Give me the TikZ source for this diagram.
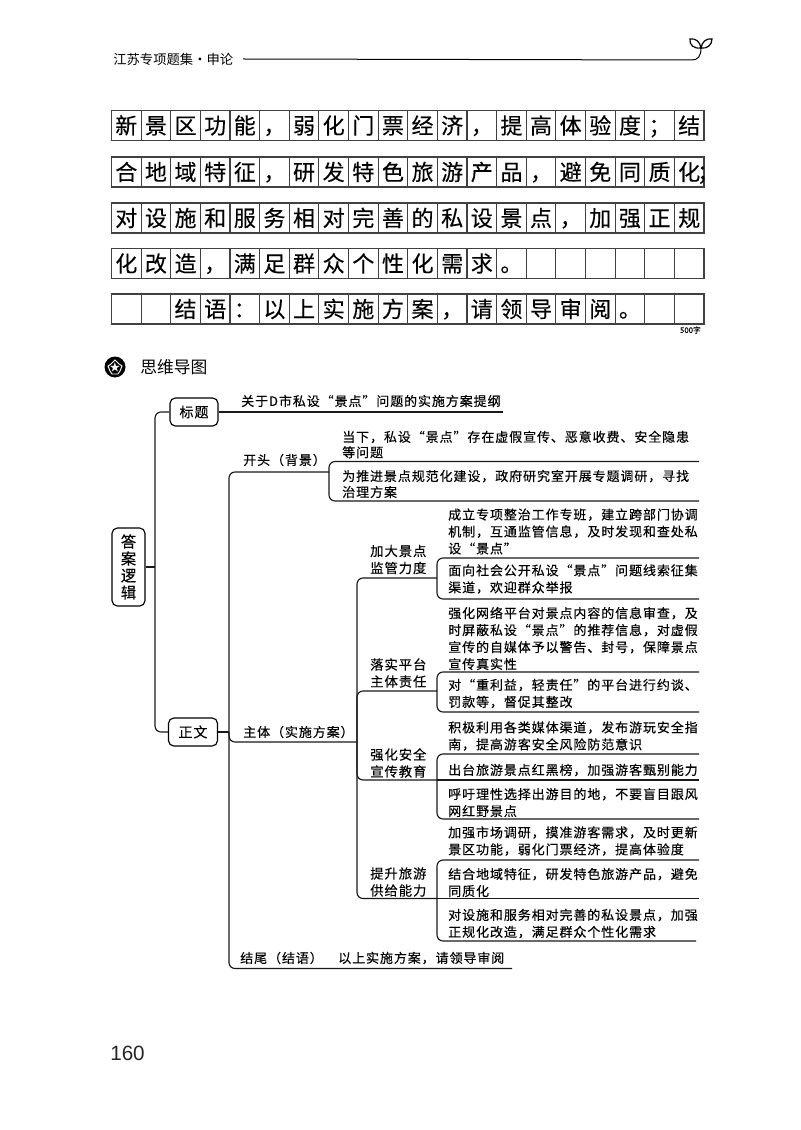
\documentclass[tikz,border=0pt]{standalone}
\usepackage{fontspec}
\setmainfont{Liberation Sans}
\newfontfamily\cjk{Noto Sans CJK SC}
\newfontfamily\cjkg[FakeBold=0.25]{Noto Sans CJK SC}
\newfontfamily\cjkw[LetterSpace=7,FakeBold=0.25]{Noto Sans CJK SC}
\newcommand{\gridrow}[3]{% name, top y, chars
  \draw[gridline] (111.5,#2) rectangle (704,#2+30);
  \foreach \k in {1,...,19}{\draw[gridline] ({111.5+\k*29.625},#2) -- ++(0,30);}
  \foreach \ch [count=\i] in {#3}{
    \node[gridchar] (#1c\i) at ({111.5+(\i-0.5)*29.625},#2+15) {\ch};
  }
}
\tikzset{
  gridline/.style={line width=0.85pt,draw=black!75},
  gridchar/.style={inner sep=0pt,text height=14.5pt,text depth=2pt,font=\cjkg\fontsize{16.5}{16.5}\selectfont},
  conn/.style={line width=0.85pt,draw=black!90,rounded corners=4.5},
  rbox/.style={draw=black,line width=0.85pt,rounded corners=4,inner sep=0pt,font=\cjkw\fontsize{10.5}{13.5}\selectfont,align=center},
  tx/.style={inner sep=0pt,anchor=west,align=left,font=\cjkw\fontsize{9.75}{12.75}\selectfont},
  lab/.style={tx,font=\cjkw\fontsize{10}{12.75}\selectfont,align=center}
}
\begin{document}
\begin{tikzpicture}[x=0.75pt,y=-0.75pt]
\useasboundingbox (0,0) rectangle (800,1130);
\fill[white] (0,0) rectangle (800,1130);
% header
\node[inner sep=0pt,anchor=west,font=\cjk\fontsize{10}{12}\selectfont] (hd) at (113,59) {江苏专项题集·申论};
\coordinate (hl) at (243,59);
\coordinate (hr) at (692,60);
\draw[line width=0.75pt] (hl) -- (hr) .. controls (698,60) and (701,56) .. (701,48);
\draw[line width=0.9pt,fill=white] (701,48) .. controls (694,49) and (689,45) .. (690,39) .. controls (696,38) and (700,42) .. cycle;
\draw[line width=0.9pt,fill=white] (701,48) .. controls (702,42) and (706,38) .. (712,39) .. controls (712,45) and (707,49) .. cycle;
% grid
\gridrow{a}{110.5}{新,景,区,功,能,，,弱,化,门,票,经,济,，,提,高,体,验,度,；,结}
\gridrow{b}{157}{合,地,域,特,征,，,研,发,特,色,旅,游,产,品,，,避,免,同,质,{化\rlap{\kern-.15em；}}}
\gridrow{c}{203}{对,设,施,和,服,务,相,对,完,善,的,私,设,景,点,，,加,强,正,规}
\gridrow{d}{248.5}{化,改,造,，,满,足,群,众,个,性,化,需,求,。}
\gridrow{e}{294}{{},{},结,语,：,以,上,实,施,方,案,，,请,领,导,审,阅,。}
\node[inner sep=0pt,anchor=east,font=\cjkg\fontsize{5.8}{7}\selectfont] (cnt) at (701,330) {500字};
% heading
\fill[black] (115,367) circle (10.5);
\draw[white,line width=0.7pt] (115,360) -- (119,364) -- (122,366) -- (120,371) -- (118,374) -- (112,374) -- (110,371) -- (108,366) -- (111,364) -- cycle;
\node[white,inner sep=0pt,font=\cjk\fontsize{8}{8}\selectfont] (hs) at (115,367) {★};
\node[inner sep=0pt,anchor=west,font=\cjk\fontsize{12.6}{14}\selectfont] (ht) at (140,367) {思维导图};
% tree root
\node[rbox,minimum width=24.75,minimum height=58.5,font=\cjkw\fontsize{11.5}{12.75}\selectfont] (root) at (128.5,567) {答\\案\\逻\\辑};
\node[rbox,minimum width=36,minimum height=21] (title) at (194,412) {标题};
\node[rbox,minimum width=36.75,minimum height=21] (body) at (193,732) {正文};
\coordinate (bus1) at (155,567);
\draw[conn] (root.east) -- (bus1);
\draw[conn] (title.west) -| (bus1) |- (body.west);
% title
\node[tx] (t1) at (241,401) {关于D市私设“景点”问题的实施方案提纲};
\coordinate (t1e) at (503,412);
\draw[conn] (title.east) -- (t1e);
% level 2
\coordinate (bus2) at (229,732);
\coordinate (open) at (329,472);
\coordinate (main) at (357,742);
\coordinate (end) at (512,968.5);
\draw[conn] (body.east) -- (bus2);
\draw[conn] (open) -| (bus2) |- (end);
\draw[conn] (bus2) |- (main);
\node[tx] (n1) at (243,460) {开头（背景）};
\node[tx] (n2) at (243,732) {主体（实施方案）};
\node[tx] (n3) at (240,958) {结尾（结语）};
\node[tx] (n3b) at (338,958) {以上实施方案，请领导审阅};
% opening
\node[tx,font=\cjkw\fontsize{9.75}{11.6}\selectfont] (o1) at (342,444.5) {当下，私设“景点”存在虚假宣传、恶意收费、安全隐患\\等问题};
\node[tx,font=\cjkw\fontsize{9.75}{12}\selectfont] (o2) at (342,484) {为推进景点规范化建设，政府研究室开展专题调研，寻找\\治理方案};
\coordinate (o1e) at (699,461.5);
\coordinate (o2e) at (699,501);
\draw[conn] (o1e) -| (329,501) -- (o2e);
% level 3
\coordinate (bus3) at (357,742);
\coordinate (u1) at (437,578);
\coordinate (u2) at (437,691);
\coordinate (u3) at (437,780);
\coordinate (u4) at (437,898.5);
\draw[conn] (u1) -| (bus3) |- (u4);
\draw[conn] (bus3) |- (u2);
\draw[conn] (bus3) |- (u3);
\node[lab] (m1) at (370,559.5) {加大景点\\监管力度};
\node[lab] (m2) at (370,673) {落实平台\\主体责任};
\node[lab] (m3) at (370,763) {强化安全\\宣传教育};
\node[lab] (m4) at (370,882) {提升旅游\\供给能力};
% leaves
\node[tx] (l1) at (448,531.5) {成立专项整治工作专班，建立跨部门协调\\机制，互通监管信息，及时发现和查处私\\设“景点”};
\node[tx] (l2) at (448,579) {面向社会公开私设“景点”问题线索征集\\渠道，欢迎群众举报};
\draw[conn] (699,558) -| (437,599) -- (699,599);
\node[tx] (l3) at (448,638.5) {强化网络平台对景点内容的信息审查，及\\时屏蔽私设“景点”的推荐信息，对虚假\\宣传的自媒体予以警告、封号，保障景点\\宣传真实性};
\node[tx] (l4) at (448,693.5) {对“重利益，轻责任”的平台进行约谈、\\罚款等，督促其整改};
\draw[conn] (699,672) -| (437,712) -- (699,712);
\node[tx] (l5) at (448,736) {积极利用各类媒体渠道，发布游玩安全指\\南，提高游客安全风险防范意识};
\node[tx] (l6) at (448,770) {出台旅游景点红黑榜，加强游客甄别能力};
\node[tx] (l7) at (448,802.5) {呼吁理性选择出游目的地，不要盲目跟风\\网红野景点};
\draw[conn] (699,754) -| (437,819) -- (699,819);
\draw[conn] (437,780) -- (699,780);
\node[tx] (l8) at (448,841) {加强市场调研，摸准游客需求，及时更新\\景区功能，弱化门票经济，提高体验度};
\node[tx] (l9) at (448,882.5) {结合地域特征，研发特色旅游产品，避免\\同质化};
\node[tx] (l10) at (448,923.5) {对设施和服务相对完善的私设景点，加强\\正规化改造，满足群众个性化需求};
\draw[conn] (699,860) -| (437,941) -- (696,941);
\draw[conn] (437,898.5) -- (699,898.5);
% page no
\node[inner sep=0pt,anchor=west,font=\fontsize{15.5}{18}\selectfont,text=black!85] (pg) at (110,1053) {160};
\end{tikzpicture}
\end{document}
